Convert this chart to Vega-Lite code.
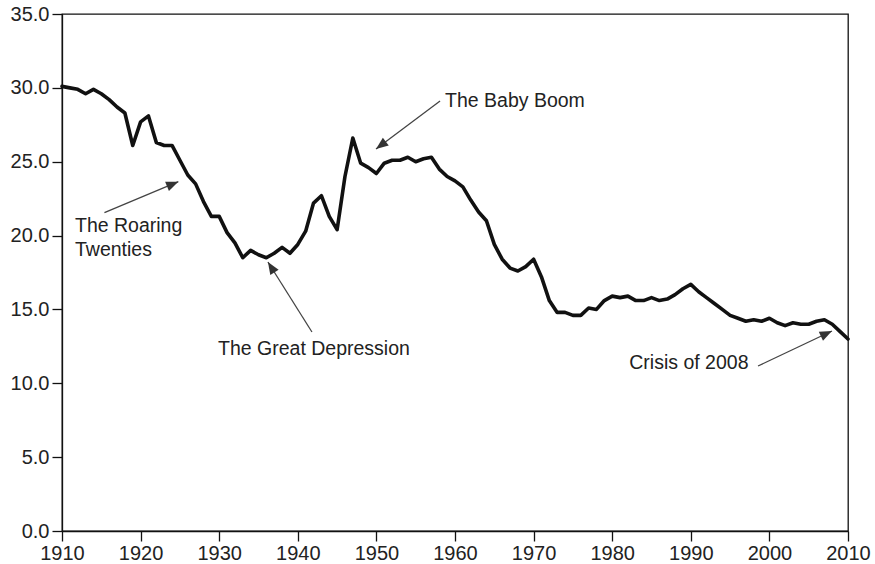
{
  "$schema": "https://vega.github.io/schema/vega-lite/v6.json",
  "width": 786,
  "height": 517,
  "autosize": {"type": "none"},
  "padding": {"left": 62, "top": 14, "right": 27, "bottom": 33},
  "background": "white",
  "config": {
    "view": {"stroke": "#111", "strokeWidth": 1.3},
    "font": "Liberation Sans",
    "axis": {
      "grid": false,
      "domainColor": "#111",
      "domainWidth": 1.3,
      "tickColor": "#111",
      "tickWidth": 1.3,
      "tickSize": 10,
      "labelFont": "Liberation Sans",
      "labelFontSize": 20,
      "labelColor": "#222",
      "title": null
    }
  },
  "datasets": {
    "series": [
      {"year": 1910, "value": 30.1}, {"year": 1911, "value": 30.0}, {"year": 1912, "value": 29.9},
      {"year": 1913, "value": 29.6}, {"year": 1914, "value": 29.9}, {"year": 1915, "value": 29.6},
      {"year": 1916, "value": 29.2}, {"year": 1917, "value": 28.7}, {"year": 1918, "value": 28.3},
      {"year": 1919, "value": 26.1}, {"year": 1920, "value": 27.7}, {"year": 1921, "value": 28.1},
      {"year": 1922, "value": 26.3}, {"year": 1923, "value": 26.1}, {"year": 1924, "value": 26.1},
      {"year": 1925, "value": 25.1}, {"year": 1926, "value": 24.1}, {"year": 1927, "value": 23.5},
      {"year": 1928, "value": 22.3}, {"year": 1929, "value": 21.3}, {"year": 1930, "value": 21.3},
      {"year": 1931, "value": 20.2}, {"year": 1932, "value": 19.5}, {"year": 1933, "value": 18.5},
      {"year": 1934, "value": 19.0}, {"year": 1935, "value": 18.7}, {"year": 1936, "value": 18.5},
      {"year": 1937, "value": 18.8}, {"year": 1938, "value": 19.2}, {"year": 1939, "value": 18.8},
      {"year": 1940, "value": 19.4}, {"year": 1941, "value": 20.3}, {"year": 1942, "value": 22.2},
      {"year": 1943, "value": 22.7}, {"year": 1944, "value": 21.3}, {"year": 1945, "value": 20.4},
      {"year": 1946, "value": 24.0}, {"year": 1947, "value": 26.6}, {"year": 1948, "value": 24.9},
      {"year": 1949, "value": 24.6}, {"year": 1950, "value": 24.2}, {"year": 1951, "value": 24.9},
      {"year": 1952, "value": 25.1}, {"year": 1953, "value": 25.1}, {"year": 1954, "value": 25.3},
      {"year": 1955, "value": 25.0}, {"year": 1956, "value": 25.2}, {"year": 1957, "value": 25.3},
      {"year": 1958, "value": 24.5}, {"year": 1959, "value": 24.0}, {"year": 1960, "value": 23.7},
      {"year": 1961, "value": 23.3}, {"year": 1962, "value": 22.4}, {"year": 1963, "value": 21.6},
      {"year": 1964, "value": 21.0}, {"year": 1965, "value": 19.4}, {"year": 1966, "value": 18.4},
      {"year": 1967, "value": 17.8}, {"year": 1968, "value": 17.6}, {"year": 1969, "value": 17.9},
      {"year": 1970, "value": 18.4}, {"year": 1971, "value": 17.2}, {"year": 1972, "value": 15.6},
      {"year": 1973, "value": 14.8}, {"year": 1974, "value": 14.8}, {"year": 1975, "value": 14.6},
      {"year": 1976, "value": 14.6}, {"year": 1977, "value": 15.1}, {"year": 1978, "value": 15.0},
      {"year": 1979, "value": 15.6}, {"year": 1980, "value": 15.9}, {"year": 1981, "value": 15.8},
      {"year": 1982, "value": 15.9}, {"year": 1983, "value": 15.6}, {"year": 1984, "value": 15.6},
      {"year": 1985, "value": 15.8}, {"year": 1986, "value": 15.6}, {"year": 1987, "value": 15.7},
      {"year": 1988, "value": 16.0}, {"year": 1989, "value": 16.4}, {"year": 1990, "value": 16.7},
      {"year": 1991, "value": 16.2}, {"year": 1992, "value": 15.8}, {"year": 1993, "value": 15.4},
      {"year": 1994, "value": 15.0}, {"year": 1995, "value": 14.6}, {"year": 1996, "value": 14.4},
      {"year": 1997, "value": 14.2}, {"year": 1998, "value": 14.3}, {"year": 1999, "value": 14.2},
      {"year": 2000, "value": 14.4}, {"year": 2001, "value": 14.1}, {"year": 2002, "value": 13.9},
      {"year": 2003, "value": 14.1}, {"year": 2004, "value": 14.0}, {"year": 2005, "value": 14.0},
      {"year": 2006, "value": 14.2}, {"year": 2007, "value": 14.3}, {"year": 2008, "value": 14.0},
      {"year": 2009, "value": 13.5}, {"year": 2010, "value": 13.0}
    ],
    "arrows": [
      {"label": "The Roaring Twenties", "x": 1915.4, "y": 21.55, "x2": 1924.8, "y2": 23.65, "heading": 67.3},
      {"label": "The Great Depression", "x": 1941.8, "y": 13.47, "x2": 1936.2, "y2": 18.21, "heading": -32.2},
      {"label": "The Baby Boom", "x": 1958.1, "y": 29.11, "x2": 1949.95, "y2": 25.86, "heading": -126.9},
      {"label": "Crisis of 2008", "x": 1998.55, "y": 11.17, "x2": 2007.96, "y2": 13.54, "heading": 64.7}
    ],
    "labels": [
      {"text": "The Roaring", "x": 1911.65, "y": 20.24},
      {"text": "Twenties", "x": 1911.65, "y": 18.6},
      {"text": "The Great Depression", "x": 1929.85, "y": 11.92},
      {"text": "The Baby Boom", "x": 1958.73, "y": 28.71},
      {"text": "Crisis of 2008", "x": 1982.17, "y": 10.97}
    ]
  },
  "layer": [
    {
      "data": {"name": "series"},
      "mark": {"type": "line", "color": "#111", "strokeWidth": 3.6, "strokeJoin": "round", "strokeCap": "round"},
      "encoding": {
        "x": {
          "field": "year", "type": "quantitative",
          "scale": {"domain": [1910, 2010], "nice": false, "zero": false},
          "axis": {"values": [1910, 1920, 1930, 1940, 1950, 1960, 1970, 1980, 1990, 2000, 2010], "format": "d", "labelPadding": 2, "labelFlush": false, "labelOverlap": false}
        },
        "y": {
          "field": "value", "type": "quantitative",
          "scale": {"domain": [0, 35], "nice": false},
          "axis": {"values": [0, 5, 10, 15, 20, 25, 30, 35], "format": ".1f", "labelPadding": 3, "labelFlush": false, "labelOverlap": false}
        }
      }
    },
    {
      "data": {"name": "arrows"},
      "mark": {"type": "rule", "color": "#444", "strokeWidth": 1.3},
      "encoding": {
        "x": {"field": "x", "type": "quantitative"},
        "y": {"field": "y", "type": "quantitative"},
        "x2": {"field": "x2"},
        "y2": {"field": "y2"}
      }
    },
    {
      "data": {"name": "arrows"},
      "mark": {"type": "point", "shape": "M0,0 L-0.4,1 L0.4,1 Z", "filled": true, "color": "#333", "opacity": 1, "size": 600, "strokeWidth": 0},
      "encoding": {
        "x": {"field": "x2", "type": "quantitative"},
        "y": {"field": "y2", "type": "quantitative"},
        "angle": {"field": "heading", "type": "quantitative", "scale": null}
      }
    },
    {
      "data": {"name": "labels"},
      "mark": {"type": "text", "align": "left", "baseline": "alphabetic", "fontSize": 19.5, "font": "Liberation Sans", "color": "#222"},
      "encoding": {
        "x": {"field": "x", "type": "quantitative"},
        "y": {"field": "y", "type": "quantitative"},
        "text": {"field": "text"}
      }
    }
  ]
}
